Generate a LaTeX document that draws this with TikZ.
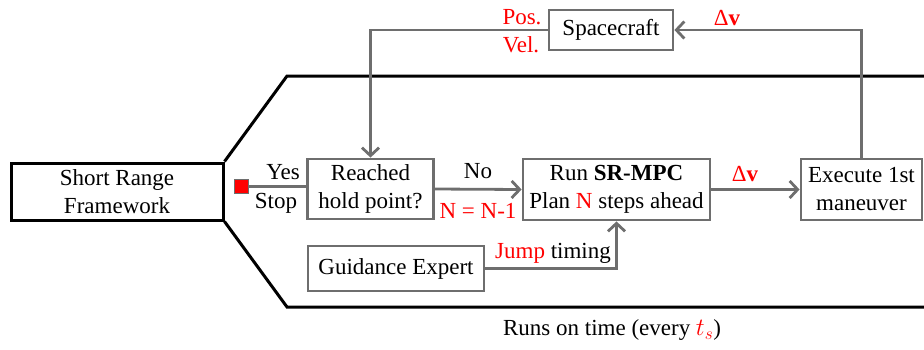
\documentclass[tikz,border=0pt]{standalone}
\usepackage{fontspec}
\setmainfont{Liberation Serif}
\usetikzlibrary{arrows.meta}
\definecolor{cgray}{RGB}{110,110,110}
\tikzset{
  box/.style={draw=cgray, line width=2.8pt, fill=white, inner sep=0pt, align=center, font=\fontsize{23}{28}\selectfont},
  frame/.style={draw=black, line width=3pt},
  conn/.style={draw=cgray, line width=2.8pt},
  arr/.style={conn, -{Straight Barb[length=8pt,width=17pt,line width=2.8pt]}},
  lbl/.style={inner sep=0pt, font=\fontsize{23}{28}\selectfont},
  rlbl/.style={lbl, text=red}
}
\begin{document}
\begin{tikzpicture}[x=1pt,y=-1pt]
\useasboundingbox (0,0) rectangle (924,349);
\begin{scope}
\clip (0,0) rectangle (924,349);
\node[box, draw=black, line width=3pt, minimum width=212pt, minimum height=57pt] (srf) at (117,191.5) {Short Range\\Framework};
\coordinate (tc) at (287,76);
\coordinate (tr) at (930,76);
\coordinate (bc) at (287,307);
\coordinate (br) at (930,307);
\draw[frame] (srf.north east) -- (tc) -- (tr);
\draw[frame] (srf.south east) -- (bc) -- (br);

\node[box, minimum width=126pt, minimum height=60pt] (reached) at (370.5,189) {Reached\\hold point?};
\node[box, minimum width=187pt, minimum height=61pt] (run) at (616.5,189.5) {Run \textbf{SR-MPC}\\Plan \textcolor{red}{N} steps ahead};
\node[box, minimum width=121pt, minimum height=61pt] (exec) at (861.5,189.5) {Execute 1st\\maneuver};
\node[box, minimum width=176pt, minimum height=45pt] (guid) at (396,268.5) {Guidance Expert};
\node[box, minimum width=124pt, minimum height=40pt] (space) at (611,30) {Spacecraft};
\node[draw=cgray, line width=1.6pt, fill=red, minimum size=14pt, inner sep=0pt] (sq) at (241.5,186.5) {};

\draw[conn] (sq) -- (sq -| reached.west);
\draw[arr] (reached.east) -- (run.west);
\draw[arr] (run.east) -- (exec.west);
\draw[arr] (guid.east) -| (run.south);
\draw[arr] (space.west) -| (reached.north);
\draw[arr] (exec.north) |- (space.east);

\node[lbl] (yes) at (283,172) {Yes};
\node[lbl] (stop) at (276,203) {Stop};
\node[lbl] (no) at (478,171) {No};
\node[rlbl] (nn) at (478,211) {N = N-1};
\node[rlbl] (dv1) at (745,174) {Δ\textbf{v}};
\node[rlbl] (dv2) at (727,18) {Δ\textbf{v}};
\node[rlbl] (pos) at (522,17) {Pos.};
\node[rlbl] (vel) at (521,45) {Vel.};
\node[lbl] (jump) at (553,253) {\textcolor{red}{Jump} timing};
\node[lbl] (runs) at (612,330) {Runs on time (every \textcolor{red}{$t_s$})};
\end{scope}
\end{tikzpicture}
\end{document}
